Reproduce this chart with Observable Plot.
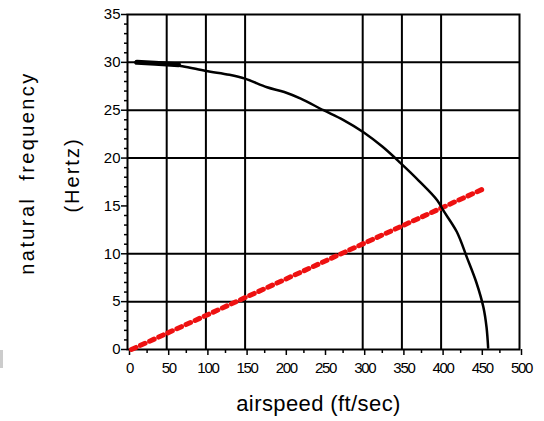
<!DOCTYPE html>
<html>
<head>
<meta charset="utf-8">
<script src="https://cdn.jsdelivr.net/npm/d3@7"></script>
<script src="https://cdn.jsdelivr.net/npm/@observablehq/plot@0.6"></script>
<style>
  body { margin: 0; background: #fff; }
  #wrap { position: relative; width: 544px; height: 421px; overflow: hidden; }
  #blk { position: absolute; left: 0; top: 350px; width: 3px; height: 18px; background: #ccc; }
  svg text { font-family: "Liberation Sans", Arial, sans-serif; }
</style>
</head>
<body>
<div id="wrap"><div id="blk"></div></div>
<script>
const airspeed = [10, 40, 70, 100, 130, 150, 178, 200, 221, 250, 275, 301, 325, 348, 372, 395, 403, 420, 433, 445, 454, 458, 460];
const frequency = [30.0, 29.9, 29.6, 29.1, 28.7, 28.3, 27.4, 26.9, 26.2, 25.0, 24.0, 22.7, 21.2, 19.5, 17.6, 15.6, 14.5, 12.3, 9.6, 7.0, 4.4, 2.3, 0.2];
const thickX = [12, 35, 65];
const thickY = [30.0, 29.9, 29.75];
const redX = [5, 457];
const redY = [0, 16.9];
const gridX = [50, 100, 150, 300, 350, 400];
const gridY = [5, 10, 20, 25, 30];
const xTicks = [0, 50, 100, 150, 200, 250, 300, 350, 400, 450, 500];
const yTicks = [0, 5, 10, 15, 20, 25, 30, 35];
const xMinor = d3.range(25, 500, 50);
const yMinor = d3.range(0, 36, 1).filter(v => v % 5 !== 0);
const xLabel = "airspeed (ft/sec)";
const yLabel1 = "natural\u00a0\u00a0frequency";
const yLabel2 = "(Hertz)";

const curve = airspeed.map((x, i) => ({x, y: frequency[i]}));
const thick = thickX.map((x, i) => ({x, y: thickY[i]}));
const red = redX.map((x, i) => ({x, y: redY[i]}));

const chart = Plot.plot({
  width: 544,
  height: 421,
  marginLeft: 127,
  marginRight: 25,
  marginTop: 14,
  marginBottom: 72,
  style: {background: "white", color: "black", fontSize: "15px", fontFamily: "Liberation Sans, Arial, sans-serif"},
  x: {domain: [0, 500]},
  y: {domain: [0, 35]},
  marks: [
    Plot.ruleX(gridX, {stroke: "black", strokeWidth: 2}),
    Plot.ruleY(gridY, {stroke: "black", strokeWidth: 2}),
    Plot.frame({stroke: "black", strokeWidth: 2}),
    Plot.axisX(xTicks, {tickSize: 6, tickPadding: 7, strokeWidth: 1.5, dx: 2, fontSize: 15, label: null}),
    Plot.axisX(xMinor, {tickSize: 4, text: null, strokeWidth: 1.5, label: null}),
    Plot.axisY(yTicks, {tickSize: 6, tickPadding: 1, strokeWidth: 1.5, fontSize: 15, label: null}),
    Plot.axisY(yMinor, {tickSize: 3, text: null, strokeWidth: 1.5, label: null}),
    Plot.line(red, {x: "x", y: "y", stroke: "#ee1111", strokeWidth: 5, strokeDasharray: "5,5"}),
    Plot.line(curve, {x: "x", y: "y", stroke: "black", strokeWidth: 2.5, curve: "catmull-rom"}),
    Plot.line(thick, {x: "x", y: "y", stroke: "black", strokeWidth: 5}),
    Plot.text([xLabel], {text: d => d, frameAnchor: "bottom", dx: -5, dy: 61, fontSize: 22}),
    Plot.text([yLabel1], {text: d => d, frameAnchor: "left", textAnchor: "middle", rotate: -90, dx: -100, dy: -9, fontSize: 20}),
    Plot.text([yLabel2], {text: d => d, frameAnchor: "left", textAnchor: "middle", rotate: -90, dx: -55, dy: -7, fontSize: 20})
  ]
});
const spacing = new Map([[xLabel, "0.4px"], [yLabel1, "2.4px"], [yLabel2, "2px"]]);
d3.select(chart).selectAll("text").each(function() {
  const t = this.textContent;
  if (spacing.has(t)) this.style.letterSpacing = spacing.get(t);
});
d3.select(chart).selectAll('g[aria-label="x-axis tick label"] text').style("letter-spacing", "-1.3px");
document.getElementById("wrap").appendChild(chart);
</script>
</body>
</html>
